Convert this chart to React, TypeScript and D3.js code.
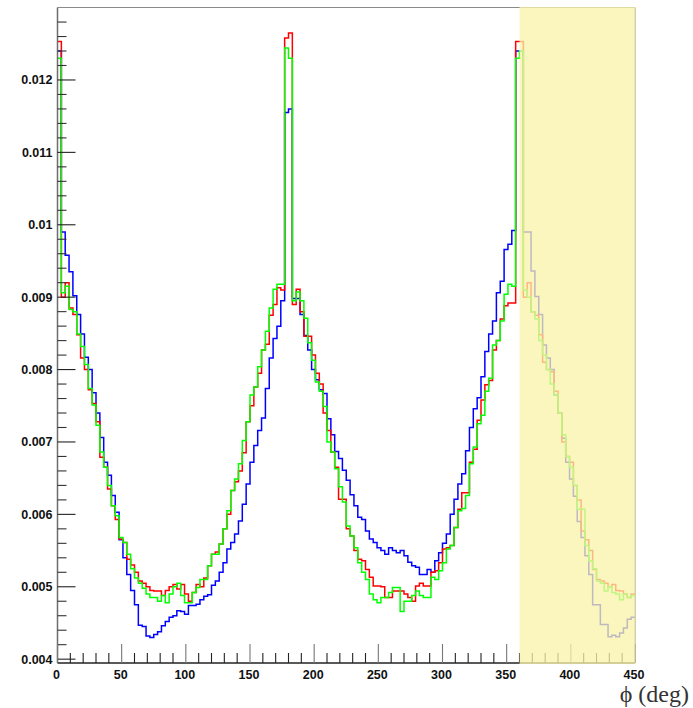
import React from "react";
import * as d3 from "d3";

// ---------- data (bin width 3 deg, 0..450 deg) ----------
const BIN_WIDTH = 3;

const blueValues = [
  0.0124, 0.0099, 0.00958, 0.00935, 0.00902, 0.00876, 0.00849, 0.00817, 0.008, 0.00768,
  0.0074, 0.00706, 0.00672, 0.00654, 0.00626, 0.00603, 0.00565, 0.0054, 0.00517, 0.00495,
  0.00475, 0.00447, 0.00445, 0.00432, 0.0043, 0.00434, 0.00438, 0.00446, 0.00452, 0.00458,
  0.0046, 0.00467, 0.00466, 0.00462, 0.00474, 0.00474, 0.00476, 0.00482, 0.00487, 0.00489,
  0.00502, 0.00508, 0.0052, 0.00533, 0.00552, 0.00561, 0.00573, 0.00591, 0.00614, 0.00642,
  0.00672, 0.00695, 0.00716, 0.00733, 0.00774, 0.00816, 0.00843, 0.0086, 0.00895, 0.01155,
  0.0116, 0.00898, 0.00898, 0.00876, 0.00847, 0.00827, 0.008, 0.00786, 0.00772, 0.00767,
  0.00732, 0.0071, 0.00687, 0.00677, 0.00661, 0.00647, 0.00627, 0.00612, 0.00596, 0.00593,
  0.00577, 0.00566, 0.00561, 0.00554, 0.0055, 0.00545, 0.00554, 0.0055, 0.00547, 0.0055,
  0.00543, 0.00534, 0.00529, 0.00527, 0.00517, 0.00517, 0.00524, 0.0052, 0.00536, 0.00547,
  0.0056, 0.00573, 0.006, 0.00621, 0.00642, 0.00656, 0.00688, 0.0072, 0.00746, 0.00761,
  0.0079, 0.00825, 0.00849, 0.00867, 0.00906, 0.00922, 0.00966, 0.00973, 0.00992, 0.0124,
  0.0124, 0.0099, 0.0099, 0.00936, 0.00901, 0.00876, 0.00834, 0.00816, 0.008, 0.00765,
  0.0074, 0.00705, 0.00672, 0.00649, 0.00625, 0.0059, 0.00568, 0.00543, 0.00517, 0.00475,
  0.00475, 0.00448, 0.00448, 0.00431, 0.00433, 0.00431, 0.00436, 0.00443, 0.00455, 0.00458,
];

const redValues = [
  0.01253, 0.009, 0.0092, 0.00885, 0.00876, 0.00848, 0.00816, 0.008, 0.00772, 0.00753,
  0.00728, 0.00679, 0.00665, 0.00635, 0.00612, 0.00593, 0.00566, 0.00561, 0.00538, 0.0053,
  0.0052, 0.00508, 0.00505, 0.005, 0.00495, 0.00494, 0.00494, 0.00488, 0.00495, 0.005,
  0.00503, 0.00497, 0.00503, 0.0049, 0.0048, 0.00492, 0.00503, 0.005, 0.00512, 0.00529,
  0.00545, 0.00548, 0.00559, 0.0058, 0.006, 0.00633, 0.00645, 0.0066, 0.00685, 0.00728,
  0.0075, 0.00776, 0.00795, 0.00827, 0.00835, 0.00875, 0.0089, 0.00913, 0.0091, 0.01258,
  0.01265, 0.0089, 0.00911, 0.0088, 0.00846, 0.00846, 0.0082, 0.00795, 0.0078, 0.0074,
  0.00716, 0.00686, 0.00665, 0.00621, 0.00621, 0.0058, 0.0057, 0.0055, 0.00538, 0.00536,
  0.00524, 0.00513, 0.00501, 0.00501, 0.005, 0.00485, 0.00485, 0.00494, 0.00494, 0.00494,
  0.0049, 0.00485, 0.0048, 0.00501, 0.00505, 0.00501, 0.00501, 0.0052, 0.00522, 0.00533,
  0.00552, 0.00554, 0.00557, 0.00582, 0.00607, 0.0063, 0.0063, 0.00672, 0.0069, 0.0073,
  0.00758, 0.00779, 0.00785, 0.00827, 0.0084, 0.0087, 0.00888, 0.00892, 0.00892, 0.01253,
  0.01253, 0.009, 0.0092, 0.0088, 0.00875, 0.00848, 0.0081, 0.008, 0.00797, 0.0077,
  0.0074, 0.007, 0.0068, 0.00672, 0.0064, 0.0062, 0.00577, 0.00565, 0.0055, 0.00524,
  0.0051, 0.00508, 0.00505, 0.005, 0.00503, 0.00495, 0.00494, 0.0049, 0.00485, 0.0049,
];

const greenValues = [
  0.0123, 0.00906, 0.00915, 0.00883, 0.0088, 0.00849, 0.00832, 0.00807, 0.00774, 0.00751,
  0.00723, 0.00686, 0.00665, 0.0064, 0.00612, 0.00598, 0.00568, 0.00561, 0.00545, 0.00525,
  0.00512, 0.00505, 0.00498, 0.0049, 0.00485, 0.00485, 0.0048, 0.00488, 0.00478, 0.0049,
  0.005, 0.00505, 0.00488, 0.00478, 0.00478, 0.00492, 0.00499, 0.0051, 0.0051, 0.00529,
  0.00545, 0.00545, 0.00559, 0.0058, 0.00605, 0.00633, 0.00649, 0.0067, 0.00702, 0.00728,
  0.00765, 0.00776, 0.00804, 0.00827, 0.00853, 0.00885, 0.00911, 0.00918, 0.00918, 0.01244,
  0.0123, 0.00895, 0.00907, 0.00895, 0.00871, 0.00837, 0.00813, 0.00783, 0.0077, 0.00749,
  0.007, 0.00686, 0.00663, 0.00638, 0.00617, 0.00584, 0.0057, 0.00554, 0.00533, 0.0052,
  0.0051, 0.0049, 0.00482, 0.00478, 0.00485, 0.00485, 0.00492, 0.00499, 0.00499, 0.00466,
  0.0048, 0.0048, 0.00488, 0.00494, 0.00488, 0.00485, 0.00485, 0.00513, 0.0051, 0.00522,
  0.00533, 0.00552, 0.00557, 0.00582, 0.00605, 0.00608, 0.00626, 0.0067, 0.00693, 0.00725,
  0.00737, 0.0077, 0.00788, 0.00834, 0.0084, 0.00867, 0.00904, 0.00918, 0.00915, 0.0123,
  0.0124, 0.0091, 0.009, 0.0088, 0.0087, 0.0084, 0.0082, 0.008, 0.0078, 0.00765,
  0.0074, 0.0071, 0.0068, 0.00665, 0.0064, 0.00607, 0.00607, 0.00557, 0.00536, 0.00525,
  0.00508, 0.00505, 0.00494, 0.005, 0.00492, 0.0049, 0.00482, 0.0049, 0.00485, 0.00488,
];

const xMajorTicks = [0, 50, 100, 150, 200, 250, 300, 350, 400, 450];
const xTickLabels = ["0", "50", "100", "150", "200", "250", "300", "350", "400", "450"];
const yMajorTicks = [0.004, 0.005, 0.006, 0.007, 0.008, 0.009, 0.01, 0.011, 0.012];
const yTickLabels = ["0.004", "0.005", "0.006", "0.007", "0.008", "0.009", "0.01", "0.011", "0.012"];
const shadedRange = [360, 450];
const xTitle = "ϕ (deg)";

// ---------- layout ----------
const W = 693;
const H = 708;
const L = 57.5;
const R = 635;
const T = 7.5;
const B = 663;

const x = d3.scaleLinear().domain([0, 450]).range([L, R]);
const y = d3.scaleLinear().domain([0.003947, 0.013001]).range([B, T]);

function stepPath(values: number[]) {
  const pts: [number, number][] = values.map((v, i) => [i * BIN_WIDTH, v]);
  pts.push([values.length * BIN_WIDTH, values[values.length - 1]]);
  const line = d3
    .line<[number, number]>()
    .x((d) => x(d[0]))
    .y((d) => y(d[1]))
    .curve(d3.curveStepAfter);
  return line(pts) || "";
}

export default function App() {
  const xMinor = d3.range(0, 451, 10).filter((v) => v % 50 !== 0);
  const yMinor = d3
    .range(0, 45)
    .map((k) => 0.004 + k * 0.0002)
    .filter((v) => v <= 0.0129 && Math.abs(v * 1000 - Math.round(v * 1000)) > 1e-6);

  const labelFont = "'Liberation Sans', Arial, Helvetica, sans-serif";

  return (
    <div style={{ position: "absolute", left: 0, top: 0 }}>
      <svg width={W} height={H} style={{ display: "block", background: "#fff" }}>
        {/* frame */}
        <line x1={L} x2={R} y1={T} y2={T} stroke="#8a8a8a" strokeWidth={1.2} />
        <line x1={R} x2={R} y1={T} y2={B} stroke="#8a8a8a" strokeWidth={1.2} />

        {/* histograms */}
        <path d={stepPath(blueValues)} fill="none" stroke="#0000ff" strokeWidth={1.5} />
        <path d={stepPath(redValues)} fill="none" stroke="#ff0000" strokeWidth={1.5} />
        <path d={stepPath(greenValues)} fill="none" stroke="#00ff00" strokeWidth={1.5} />

        {/* y axis */}
        <line x1={L} x2={L} y1={T} y2={B} stroke="#6e6e6e" strokeWidth={1.5} />
        {yMajorTicks.map((v) => (
          <line key={"ym" + v} x1={L} x2={L + 18} y1={y(v)} y2={y(v)} stroke="#222" strokeWidth={1.1} />
        ))}
        {yMinor.map((v) => (
          <line key={"yn" + v} x1={L} x2={L + 9} y1={y(v)} y2={y(v)} stroke="#333" strokeWidth={1.1} />
        ))}

        {/* x axis */}
        <line x1={L} x2={R} y1={B} y2={B} stroke="#222" strokeWidth={1.4} />
        {xMajorTicks.map((v) => (
          <line key={"xm" + v} x1={x(v)} x2={x(v)} y1={B} y2={B - 19} stroke="#777" strokeWidth={1.1} />
        ))}
        {xMinor.map((v) => (
          <line key={"xn" + v} x1={x(v)} x2={x(v)} y1={B} y2={B - 10} stroke="#222" strokeWidth={1.1} />
        ))}

        {/* shaded region (drawn on top, semi-transparent) */}
        <rect
          x={x(shadedRange[0])}
          y={T - 0.5}
          width={x(shadedRange[1]) - x(shadedRange[0]) + 0.5}
          height={B - T + 1.5}
          fill="#faf3aa"
          fillOpacity={0.76}
        />

        {/* tick labels */}
        {yMajorTicks.map((v, i) => (
          <text
            key={"yl" + v}
            x={L - 5}
            y={y(v)}
            dy="0.35em"
            textAnchor="end"
            fontFamily={labelFont}
            fontWeight="bold"
            fontSize={12.5}
            fill="#111"
          >
            {yTickLabels[i]}
          </text>
        ))}
        {xMajorTicks.map((v, i) => (
          <text
            key={"xl" + v}
            x={x(v) - 1}
            y={B + 16}
            textAnchor="middle"
            fontFamily={labelFont}
            fontWeight="bold"
            fontSize={12.5}
            fill="#111"
          >
            {xTickLabels[i]}
          </text>
        ))}

        {/* axis title */}
        <text
          x={689}
          y={702}
          textAnchor="end"
          fontFamily="'Liberation Serif', 'DejaVu Serif', 'Times New Roman', serif"
          fontSize={24}
          fill="#333"
        >
          {xTitle}
        </text>
      </svg>
    </div>
  );
}
